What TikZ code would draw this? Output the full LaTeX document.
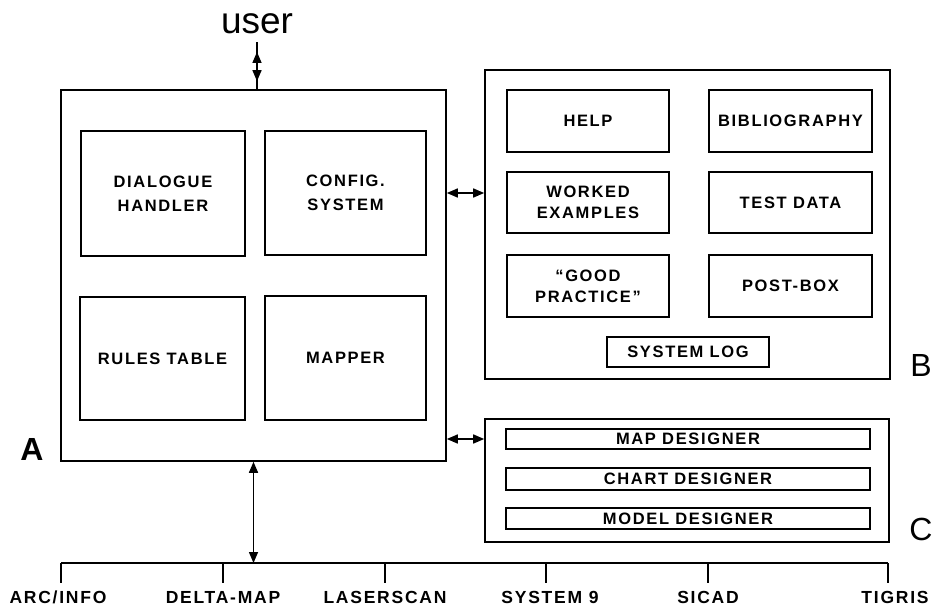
\documentclass[tikz,border=0pt]{standalone}
\usepackage{fontspec}
\setmainfont{Liberation Sans}
\newfontfamily\boxfont{Liberation Sans}[LetterSpace=10]
\usetikzlibrary{arrows.meta,decorations.markings}

\tikzset{
  frame/.style={draw, line width=1.6pt, inner sep=0pt},
  unit/.style={draw, line width=1.5pt, inner sep=0pt, align=center,
    font=\boxfont\bfseries\fontsize{16.5}{24}\selectfont},
  subunit/.style={unit, font=\boxfont\bfseries\fontsize{16.5}{21}\selectfont},
  bar/.style={unit, font=\boxfont\bfseries\fontsize{16.5}{20}\selectfont},
  biglabel/.style={font=\fontsize{32}{36}\selectfont, inner sep=0pt},
  pkglabel/.style={font=\boxfont\bfseries\fontsize{17.5}{20}\selectfont, inner sep=0pt, anchor=base},
  tip/.tip={Triangle[length=11pt,width=9pt]},
  link/.style={line width=1.5pt, tip-tip},
  wire/.style={line width=1.6pt}
}

\begin{document}
\begin{tikzpicture}[x=1pt, y=-1pt]
\useasboundingbox (0,0) rectangle (934,605);

% user
\node[font=\fontsize{37}{40}\selectfont, inner sep=0pt, anchor=base] (user) at (257,33) {user};

% A: dialogue system
\node[frame, minimum width=385pt, minimum height=371pt] (A) at (253.5,275.5) {};
\node[unit, minimum width=164pt, minimum height=125pt] (dh) at (163,193.5) {DIALOGUE\\HANDLER};
\node[unit, minimum width=161pt, minimum height=124pt] (cs) at (345.5,193) {CONFIG.\\SYSTEM};
\node[unit, minimum width=165pt, minimum height=123pt] (rt) at (162.5,358.5) {RULES TABLE};
\node[unit, minimum width=161pt, minimum height=124pt] (mp) at (345.5,358) {MAPPER};
\node[biglabel, font=\bfseries\fontsize{32}{36}\selectfont] (la) at (32,449) {A};

% B: support facilities
\node[frame, minimum width=405pt, minimum height=309pt] (B) at (687.5,224.5) {};
\node[subunit, minimum width=162pt, minimum height=62pt] (help) at (588,121) {HELP};
\node[subunit, minimum width=163pt, minimum height=62pt] (bib) at (790.5,121) {BIBLIOGRAPHY};
\node[subunit, minimum width=162pt, minimum height=61pt] (we) at (588,202.5) {WORKED\\EXAMPLES};
\node[subunit, minimum width=163pt, minimum height=61pt] (td) at (790.5,202.5) {TEST DATA};
\node[subunit, minimum width=162pt, minimum height=62pt] (gp) at (588,286) {“GOOD\\PRACTICE”};
\node[subunit, minimum width=163pt, minimum height=62pt] (pb) at (790.5,286) {POST-BOX};
\node[subunit, minimum width=162pt, minimum height=30pt] (log) at (688,352) {SYSTEM LOG};
\node[biglabel] (lb) at (921,365) {B};

% C: designers
\node[frame, minimum width=404pt, minimum height=123pt] (C) at (687,480.5) {};
\node[bar, minimum width=364pt, minimum height=20pt] (map) at (688,439) {MAP DESIGNER};
\node[bar, minimum width=364pt, minimum height=22pt] (chart) at (688,479) {CHART DESIGNER};
\node[bar, minimum width=364pt, minimum height=21pt] (model) at (688,518.5) {MODEL DESIGNER};
\node[biglabel] (lc) at (921,529) {C};

% links between the parts
\draw[line width=1.5pt, postaction={decorate}, decoration={markings,
    mark=at position 0.21 with {\arrowreversed{tip}},
    mark=at position 0.83 with {\arrow{tip}}}]
  ([yshift=-9pt]user.base) -- (user.base |- A.north);
\draw[link] (A.east |- cs) -- (B.west |- cs);
\draw[link] (A.east |- map) -- (C.west |- map);

% bus to the GIS packages
\coordinate (t1) at (61,563);
\coordinate (t2) at (223,563);
\coordinate (t3) at (385,563);
\coordinate (t4) at (546,563);
\coordinate (t5) at (708,563);
\coordinate (t6) at (888,563);
\draw[wire] (t1) -- (t6);
\foreach \t in {t1,t2,t3,t4,t5,t6} \draw[wire] (\t) -- ++(0,20);
\draw[link] (A.south) -- (A.south |- t1);

\node[pkglabel] (p1) at (58,603) {ARC/INFO};
\node[pkglabel] (p2) at (223,603) {DELTA-MAP};
\node[pkglabel] (p3) at (385,603) {LASERSCAN};
\node[pkglabel] (p4) at (550,603) {SYSTEM 9};
\node[pkglabel] (p5) at (708,603) {SICAD};
\node[pkglabel] (p6) at (895,603) {TIGRIS};
\end{tikzpicture}
\end{document}
